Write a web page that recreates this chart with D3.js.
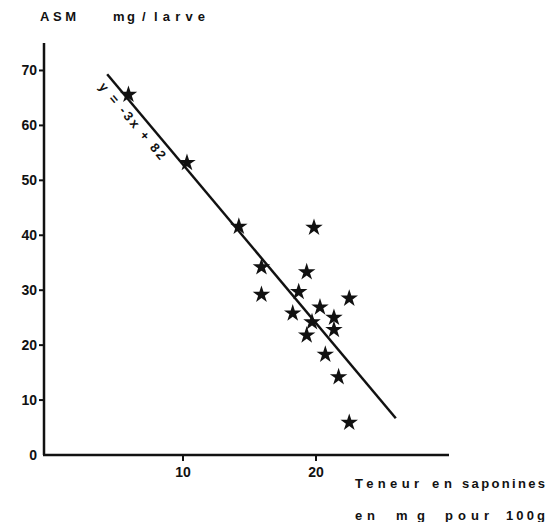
<!DOCTYPE html>
<html>
<head>
<meta charset="utf-8">
<script src="https://cdn.jsdelivr.net/npm/d3@7"></script>
<style>
  body { margin: 0; background: #fff; }
  text { font-family: "Liberation Sans", Arial, sans-serif; font-weight: bold; fill: #111; }
</style>
</head>
<body>
<svg id="chart"></svg>
<script>
// saponin content (mg / 100g) vs ASM (mg / larve)
const saponines = [5.9, 10.3, 14.2, 19.85, 15.9, 19.3, 15.9, 18.7, 22.5, 20.3, 18.25, 21.35, 19.7, 21.35, 19.3, 20.7, 21.7, 22.5]
const asm = [65.6, 53.2, 41.6, 41.4, 34.2, 33.3, 29.2, 29.7, 28.5, 26.9, 25.8, 25.0, 24.2, 22.8, 21.8, 18.3, 14.2, 5.9]

// fitted line as drawn (end points)
const lineX = [4.3, 26.0]
const lineY = [69.3, 6.7]

const xTicks = [10, 20]
const yTicks = [0, 10, 20, 30, 40, 50, 60, 70]

const svg = d3.select('#chart')
    .attr('width', 548)
    .attr('height', 522)

const x = d3.scaleLinear().domain([-0.45, 30]).range([44, 449])
const y = d3.scaleLinear().domain([0, 75]).range([455, 43])

// axes
svg.append('line')
    .attr('x1', x(-0.45)).attr('x2', x(-0.45))
    .attr('y1', y(75)).attr('y2', y(0))
    .attr('stroke', '#111').attr('stroke-width', 2.5)
svg.append('line')
    .attr('x1', x(-0.45) - 1).attr('x2', x(30))
    .attr('y1', y(0)).attr('y2', y(0))
    .attr('stroke', '#111').attr('stroke-width', 2.5)

// y ticks
svg.selectAll('.ytick')
    .data(yTicks.filter(d => d > 0))
    .join('line')
    .attr('x1', x(-0.45) - 5).attr('x2', x(-0.45))
    .attr('y1', d => y(d)).attr('y2', d => y(d))
    .attr('stroke', '#111').attr('stroke-width', 2)
svg.selectAll('.ylab')
    .data(yTicks)
    .join('text')
    .attr('x', 37)
    .attr('y', d => y(d) + 5)
    .attr('text-anchor', 'end')
    .style('font-size', '14px')
    .text(d => d)

// x ticks
svg.selectAll('.xtick')
    .data(xTicks)
    .join('line')
    .attr('x1', d => x(d)).attr('x2', d => x(d))
    .attr('y1', y(0)).attr('y2', y(0) + 6)
    .attr('stroke', '#111').attr('stroke-width', 2)
svg.selectAll('.xlab')
    .data(xTicks)
    .join('text')
    .attr('x', d => x(d))
    .attr('y', y(0) + 22)
    .attr('text-anchor', 'middle')
    .style('font-size', '14px')
    .text(d => d)

// axis titles, word by word (wide spacing like the original)
const words = [
    ['ASM', 40, 21, 36],
    ['mg', 113, 21, 22], ['/', 142, 21, 5], ['larve', 154, 21, 51],
    ['Teneur', 355, 488, 64], ['en', 432, 488, 20], ['saponines', 462, 488, 83],
    ['en', 355, 520, 20], ['mg', 396, 520, 29], ['pour', 445, 520, 44], ['100g', 506, 520, 39]
]
svg.selectAll('.word')
    .data(words)
    .join('text')
    .attr('x', d => d[1]).attr('y', d => d[2])
    .attr('textLength', d => d[3])
    .attr('lengthAdjust', 'spacing')
    .style('font-size', '13px')
    .text(d => d[0])

// regression line
svg.append('line')
    .attr('x1', x(lineX[0])).attr('y1', y(lineY[0]))
    .attr('x2', x(lineX[1])).attr('y2', y(lineY[1]))
    .attr('stroke', '#111').attr('stroke-width', 2.5)

// equation label along the line
const ang = Math.atan2(y(lineY[1]) - y(lineY[0]), x(lineX[1]) - x(lineX[0])) * 180 / Math.PI
svg.append('text')
    .attr('transform', `translate(${x(lineX[0])},${y(lineY[0])}) rotate(${ang})`)
    .attr('x', 4).attr('y', 15)
    .attr('textLength', 96)
    .attr('lengthAdjust', 'spacing')
    .style('font-size', '13px')
    .text('y = -3x + 82')

// points
const star = d3.symbol().type(d3.symbolStar).size(95)
svg.selectAll('.pt')
    .data(saponines.map((d, i) => [d, asm[i]]))
    .join('path')
    .attr('d', star)
    .attr('transform', d => `translate(${x(d[0])},${y(d[1])})`)
    .attr('fill', '#111')
</script>
</body>
</html>
